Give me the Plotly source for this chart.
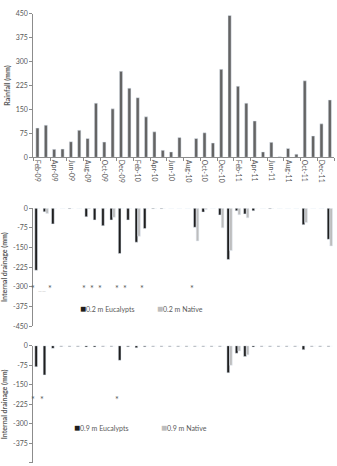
import plotly.graph_objects as go

months = ["Feb-09","Mar-09","Apr-09","May-09","Jun-09","Jul-09","Aug-09","Sep-09","Oct-09","Nov-09","Dec-09","Jan-10",
          "Feb-10","Mar-10","Apr-10","May-10","Jun-10","Jul-10","Aug-10","Sep-10","Oct-10","Nov-10","Dec-10","Jan-11",
          "Feb-11","Mar-11","Apr-11","May-11","Jun-11","Jul-11","Aug-11","Sep-11","Oct-11","Nov-11","Dec-11","Jan-12"]

rainfall = [92,101,25,26,49,85,59,170,48,152,270,217,
            187,127,80,22,17,62,0,59,77,45,276,445,
            223,170,114,17,47,2,28,10,240,67,105,180]

euc_02 = [-237,-14,-60,0,-2,0,-33,-45,-67,-45,-173,-45,
          -130,-78,-2,-2,0,0,0,-73,-15,0,-26,-196,
          -10,-22,-10,0,-2,0,0,0,-63,0,0,-119]
nat_02 = [0,-20,0,0,0,0,-3,0,0,-35,0,0,
          -107,0,0,0,0,0,0,-125,-5,0,-75,-162,
          -25,-37,0,0,0,0,0,0,-55,0,0,-144]

euc_09 = [-81,-112,-10,-3,-3,-3,-5,-5,-3,-3,-56,-4,
          -8,-4,-3,-3,-3,-3,-3,-3,-3,-3,-3,-104,
          -29,-41,-5,-3,-3,-3,-3,-3,-15,-3,-3,-3]
nat_09 = [0,0,0,0,0,0,0,0,0,0,0,0,
          0,0,0,0,0,0,0,0,0,0,0,-75,
          -20,-35,0,0,0,0,0,0,0,0,0,0]

star_02 = ["Feb-09","Apr-09","Aug-09","Sep-09","Oct-09","Dec-09","Jan-10","Mar-10","Sep-10"]
star_02_y = -300
star_09 = ["Feb-09","Mar-09","Dec-09"]
star_09_y = -200

y_top_ticks = [0,75,150,225,300,375,450]
y_neg_ticks = [0,-75,-150,-225,-300,-375,-450]

labels = ["0.2 m Eucalypts","0.2 m Native","0.9 m Eucalypts","0.9 m Native"]

C_RAIN = "#646464"
C_EUC = "#1e1e1e"
C_NAT = "#bdbdbd"
TXT = "#595959"
FONT = "Lato"

fig = go.Figure()
fig.add_trace(go.Bar(x=months, y=rainfall, marker_color=C_RAIN, width=0.38,
                     xaxis="x", yaxis="y", showlegend=False))
fig.add_trace(go.Bar(x=months, y=euc_02, marker_color=C_EUC, width=0.32, offset=-0.32,
                     xaxis="x2", yaxis="y2", showlegend=False))
fig.add_trace(go.Bar(x=months, y=nat_02, marker_color=C_NAT, width=0.32, offset=0.0,
                     xaxis="x2", yaxis="y2", showlegend=False))
fig.add_trace(go.Bar(x=months, y=euc_09, marker_color=C_EUC, width=0.32, offset=-0.32,
                     xaxis="x3", yaxis="y3", showlegend=False))
fig.add_trace(go.Bar(x=months, y=nat_09, marker_color=C_NAT, width=0.32, offset=0.0,
                     xaxis="x3", yaxis="y3", showlegend=False))

xdom = [33.3/337, 334/337]
tickfont = dict(family=FONT, size=7, color=TXT)
titlefont = dict(family=FONT, size=7, color=TXT, weight="bold")

def yax(dom, rng, ticks, title):
    return dict(domain=dom, range=rng, tickvals=ticks, ticktext=[str(t) for t in ticks],
                showgrid=False, zeroline=False, showline=True, linecolor="#8c8c8c", linewidth=1,
                ticks="outside", ticklen=3, tickcolor="#8c8c8c", tickfont=tickfont,
                title=dict(text=title, font=titlefont, standoff=4), fixedrange=True)

def xax(anchor, show_labels):
    d = dict(domain=xdom, type="category", categoryorder="array", categoryarray=months,
             range=[-0.5, len(months) - 0.5], anchor=anchor, showgrid=False, zeroline=False,
             fixedrange=True)
    if show_labels:
        d.update(showline=True, linecolor="#8c8c8c", linewidth=1, ticks="outside", ticklen=3,
                 tickcolor="#8c8c8c", tickson="boundaries", dtick=2, tickangle=90,
                 tickfont=tickfont, showticklabels=True)
    else:
        d.update(showline=False, ticks="", showticklabels=False)
    return d

fig.update_layout(
    width=337, height=466, margin=dict(l=0, r=0, t=0, b=0),
    paper_bgcolor="white", plot_bgcolor="white",
    barmode="overlay", showlegend=False,
    font=dict(family=FONT, color=TXT),
    xaxis=xax("y", True),
    xaxis2=xax("y2", False),
    xaxis3=xax("y3", False),
    yaxis=yax([(466-155)/466, (466-9)/466], [0, 450], y_top_ticks, "Rainfall (mm)"),
    yaxis2=yax([(466-326.7)/466, (466-206.7)/466], [-450, 0], y_neg_ticks, "Internal drainage (mm)"),
    yaxis3=yax([0, (466-346.7)/466], [-450, 0], y_neg_ticks, "Internal drainage (mm)"),
)

ann = []
for m in star_02:
    ann.append(dict(x=m, y=star_02_y, xref="x2", yref="y2", text="*", showarrow=False,
                    xshift=-4, yshift=-2, font=dict(family=FONT, size=9, color=TXT)))
for m in star_09:
    ann.append(dict(x=m, y=star_09_y, xref="x3", yref="y3", text="*", showarrow=False,
                    xshift=-4, yshift=-2, font=dict(family=FONT, size=9, color=TXT)))
ann.append(dict(x=months[0], y=-318, xref="x2", yref="y2", text="——", showarrow=False,
                xshift=5, font=dict(family=FONT, size=5, color=C_NAT)))

def leg(x, y, color, text):
    return dict(x=x, y=y, xref="paper", yref="paper", xanchor="left", yanchor="middle",
                showarrow=False,
                text=f"<span style='color:{color};font-size:10px'>■</span>{text}",
                font=dict(family=FONT, size=7, color=TXT))

ann.append(leg(78/337, (466-308)/466, C_EUC, labels[0]))
ann.append(leg(155/337, (466-308)/466, C_NAT, labels[1]))
ann.append(leg(72/337, (466-429)/466, C_EUC, labels[2]))
ann.append(leg(159/337, (466-429)/466, C_NAT, labels[3]))
fig.update_layout(annotations=ann)

fig.write_html("out.html")
